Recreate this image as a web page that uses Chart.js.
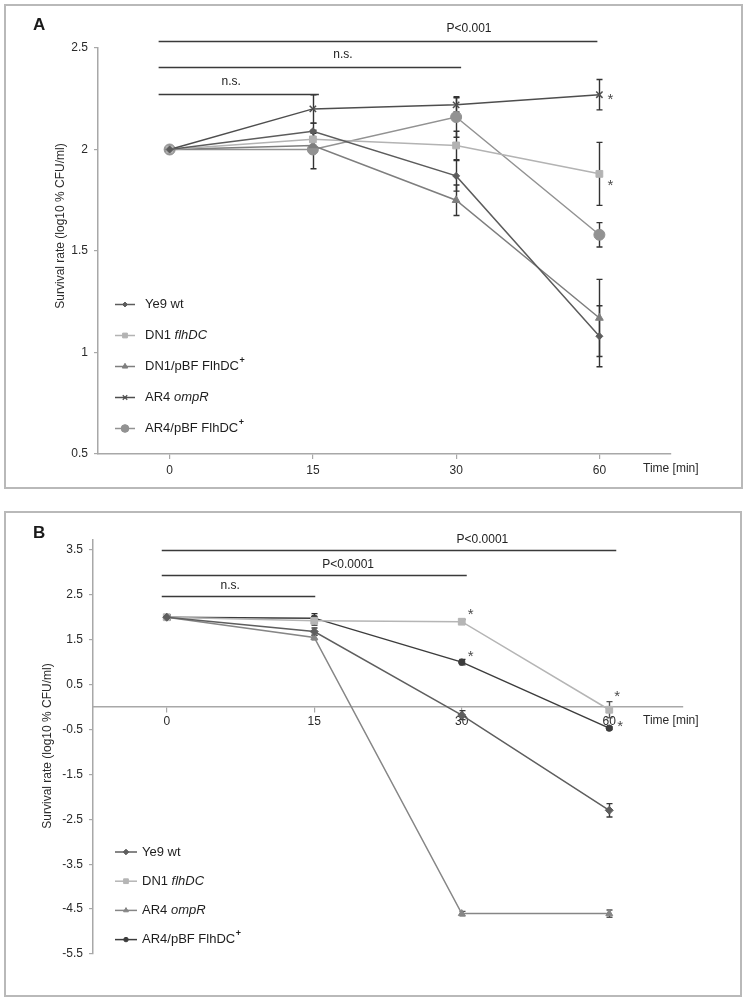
<!DOCTYPE html>
<html>
<head>
<meta charset="utf-8">
<script src="https://cdn.jsdelivr.net/npm/chart.js@4.4.1/dist/chart.umd.min.js"></script>
<style>
  body { margin: 0; background: #fff; }
  #page { position: relative; width: 747px; height: 1000px; overflow: hidden; }
  canvas { position: absolute; left: 0; }
  .frame { position: absolute; border: 2px solid #b9b9b9; box-sizing: border-box; pointer-events: none; }
</style>
</head>
<body>
<div id="page">
  <canvas id="chartA" width="747" height="500" style="top:0"></canvas>
  <canvas id="chartB" width="747" height="500" style="top:500px"></canvas>
  <div class="frame" style="left:4px;top:4px;width:739px;height:485px"></div>
  <div class="frame" style="left:4px;top:511px;width:738px;height:486px"></div>
</div>
<script>
const FONT = 'Arial, "Liberation Sans", sans-serif';

// x categories (time in minutes)
const timeLabels = ['0', '15', '30', '60'];

// ---- Panel A data ----
const namesA = ['Ye9 wt', 'DN1 <i>flhDC</i>', 'DN1/pBF FlhDC<sup>+</sup>', 'AR4 <i>ompR</i>', 'AR4/pBF FlhDC<sup>+</sup>'];
const ye9A   = [2.0, 2.09, 1.87, 1.08];
const dn1A   = [2.0, 2.05, 2.02, 1.88];
const dn1pA  = [2.0, 2.02, 1.75, 1.17];
const ompRA  = [2.0, 2.20, 2.22, 2.27];
const ar4pA  = [2.0, 2.00, 2.16, 1.58];
// standard deviations
const ye9ErrA  = [0, 0.04, 0.075, 0.15];
const dn1ErrA  = [0, 0.03, 0.07, 0.155];
const dn1pErrA = [0, 0.03, 0.075, 0.19];
const ompRErrA = [0, 0.07, 0.035, 0.075];
const ar4pErrA = [0, 0.095, 0.1, 0.06];
const yTicksA = [0.5, 1, 1.5, 2, 2.5];

// ---- Panel B data ----
const namesB = ['Ye9 wt', 'DN1 <i>flhDC</i>', 'AR4 <i>ompR</i>', 'AR4/pBF FlhDC<sup>+</sup>'];
const ye9B   = [2.0, 1.68, -0.18, -2.30];
const dn1B   = [2.0, 1.92, 1.90, -0.06];
const ompRB  = [2.0, 1.55, -4.60, -4.60];
const ar4pB  = [2.0, 1.98, 1.00, -0.47];
const ye9ErrB  = [0.05, 0.08, 0.1, 0.15];
const dn1ErrB  = [0.05, 0.1, 0.05, 0.18];
const ompRErrB = [0.05, 0.05, 0.05, 0.08];
const ar4pErrB = [0.05, 0.1, 0.06, 0.03];
const yTicksB = [-5.5, -4.5, -3.5, -2.5, -1.5, -0.5, 0.5, 1.5, 2.5, 3.5];

// significance brackets: category span, level (y value), label
const bracketsA = [
  { from: 0, to: 3, level: 2.534, label: 'P<0.001', labelAt: 2.09, endDx: -2 },
  { from: 0, to: 2, level: 2.404, label: 'n.s.', labelAt: 1.21, endDx: 5 },
  { from: 0, to: 1, level: 2.272, label: 'n.s.', labelAt: 0.43, endDx: 6 }
];
const bracketsB = [
  { from: 0, to: 3, level: 3.5, label: 'P<0.0001', labelAt: 2.14, endDx: 7 },
  { from: 0, to: 2, level: 2.93, label: 'P<0.0001', labelAt: 1.23, endDx: 5 },
  { from: 0, to: 1, level: 2.47, label: 'n.s.', labelAt: 0.43, endDx: 1 }
];
// asterisks next to significant points (series index, category index)
const starsA = [{ series: 3, at: 3, dx: 11, dy: 0 }, { series: 1, at: 3, dx: 11, dy: 7 }];
const starsB = [
  { series: 1, at: 2, dx: 9, dy: -12 }, { series: 3, at: 2, dx: 9, dy: -10 },
  { series: 1, at: 3, dx: 8, dy: -18 }, { series: 3, at: 3, dx: 11, dy: -6 }
];

const stylesA = [
  { color: '#5c5c5c', pointStyle: 'rectRot', radius: 3.5 },
  { color: '#b3b3b3', pointStyle: 'rect', radius: 4.8 },
  { color: '#7e7e7e', pointStyle: 'triangle', radius: 4.5 },
  { color: '#4e4e4e', pointStyle: 'crossRot', radius: 4.5 },
  { color: '#929292', pointStyle: 'circle', radius: 5.5 }
];
const stylesB = [
  { color: '#5e5e5e', pointStyle: 'rectRot', radius: 4 },
  { color: '#b5b5b5', pointStyle: 'rect', radius: 4.8 },
  { color: '#868686', pointStyle: 'triangle', radius: 4 },
  { color: '#3c3c3c', pointStyle: 'circle', radius: 3.2 }
];

function plain(name) {
  return name.replace(/<[^>]+>/g, '');
}

function makeDatasets(names, values, styles) {
  return names.map((n, i) => ({
    label: plain(n),
    data: values[i],
    borderColor: styles[i].color,
    backgroundColor: styles[i].color,
    pointBackgroundColor: styles[i].color,
    pointBorderColor: styles[i].color,
    pointStyle: styles[i].pointStyle,
    pointRadius: styles[i].radius,
    pointBorderWidth: styles[i].pointStyle === 'crossRot' ? 1.5 : 1,
    borderWidth: 1.5,
    tension: 0,
    fill: false
  }));
}

function drawRichText(ctx, name, x, y, size) {
  const re = /<(i|sup)>(.*?)<\/\1>|([^<]+)/g;
  let m;
  while ((m = re.exec(name))) {
    if (m[3]) {
      ctx.font = size + 'px ' + FONT;
      ctx.fillText(m[3], x, y);
      x += ctx.measureText(m[3]).width;
    } else if (m[1] === 'i') {
      ctx.font = 'italic ' + size + 'px ' + FONT;
      ctx.fillText(m[2], x, y);
      x += ctx.measureText(m[2]).width;
    } else {
      ctx.font = 'bold ' + (size - 4) + 'px ' + FONT;
      ctx.fillText(m[2], x + 0.5, y - 6);
      x += ctx.measureText(m[2]).width;
    }
  }
}

// error bars, drawn under the series
function errorBarPlugin(errors, colors) {
  return {
    id: 'errorBars',
    beforeDatasetsDraw(chart) {
      const { ctx, scales: { x, y } } = chart;
      ctx.save();
      ctx.lineWidth = 1.4;
      errors.forEach((errs, i) => {
        const vals = chart.data.datasets[i].data;
        errs.forEach((e, j) => {
          if (!e) return;
          const px = Math.round(x.getPixelForValue(j)) + 0.5;
          const top = y.getPixelForValue(vals[j] + e);
          const bot = y.getPixelForValue(vals[j] - e);
          ctx.strokeStyle = colors[i];
          ctx.beginPath();
          ctx.moveTo(px, top); ctx.lineTo(px, bot);
          ctx.moveTo(px - 3, top); ctx.lineTo(px + 3, top);
          ctx.moveTo(px - 3, bot); ctx.lineTo(px + 3, bot);
          ctx.stroke();
        });
      });
      ctx.restore();
    }
  };
}

// panel letter, axis titles, brackets, legend, asterisks
function decorPlugin(cfg) {
  return {
    id: 'decor',
    afterDraw(chart) {
      const { ctx, scales: { x, y } } = chart;
      ctx.save();
      ctx.fillStyle = '#1a1a1a';
      ctx.textBaseline = 'alphabetic';
      ctx.textAlign = 'left';
      ctx.font = 'bold 17px ' + FONT;
      ctx.fillText(cfg.panel, 33, cfg.panelY);

      // y axis title
      ctx.save();
      ctx.translate(cfg.yTitleX, cfg.yTitleY);
      ctx.rotate(-Math.PI / 2);
      ctx.textAlign = 'center';
      ctx.textBaseline = 'middle';
      ctx.font = '12px ' + FONT;
      ctx.fillStyle = '#2a2a2a';
      ctx.fillText('Survival rate (log10 % CFU/ml)', 0, 0);
      ctx.restore();

      // x axis title
      ctx.font = '12px ' + FONT;
      ctx.textBaseline = 'middle';
      ctx.fillStyle = '#2a2a2a';
      ctx.fillText('Time [min]', 643, cfg.timeY);

      // significance brackets
      ctx.strokeStyle = '#3a3a3a';
      ctx.lineWidth = 1.3;
      cfg.brackets.forEach(b => {
        const py = Math.round(y.getPixelForValue(b.level)) + 0.5;
        ctx.beginPath();
        ctx.moveTo(x.getPixelForValue(b.from) + cfg.startDx, py);
        ctx.lineTo(x.getPixelForValue(b.to) + b.endDx, py);
        ctx.stroke();
        ctx.textAlign = 'center';
        ctx.textBaseline = 'alphabetic';
        ctx.font = '12px ' + FONT;
        ctx.fillStyle = '#222';
        ctx.fillText(b.label, x.getPixelForValue(b.labelAt), py - cfg.labelGap);
      });

      // asterisks
      ctx.textAlign = 'center';
      ctx.textBaseline = 'alphabetic';
      ctx.font = '15px ' + FONT;
      ctx.fillStyle = '#4a4a4a';
      cfg.stars.forEach(s => {
        const v = chart.data.datasets[s.series].data[s.at];
        ctx.fillText('*', x.getPixelForValue(s.at) + s.dx, y.getPixelForValue(v) + s.dy + 9);
      });

      // legend
      cfg.names.forEach((n, i) => {
        const st = cfg.styles[i];
        const ly = cfg.legendY + i * cfg.legendStep;
        ctx.strokeStyle = st.color;
        ctx.lineWidth = 1.5;
        ctx.beginPath();
        ctx.moveTo(cfg.legendX, ly);
        ctx.lineTo(cfg.legendX + cfg.legendLen, ly);
        ctx.stroke();
        ctx.fillStyle = st.color;
        ctx.lineWidth = st.pointStyle === 'crossRot' ? 1.2 : 1;
        Chart.helpers.drawPoint(ctx, { pointStyle: st.pointStyle, radius: st.radius * 0.7, borderWidth: 1, rotation: 0 },
          cfg.legendX + cfg.legendLen / 2, ly);
        ctx.fillStyle = '#1e1e1e';
        ctx.textAlign = 'left';
        ctx.textBaseline = 'middle';
        drawRichText(ctx, n, cfg.legendText, ly, 13);
      });
      ctx.restore();
    }
  };
}

function xAxis(extra) {
  return Object.assign({
    type: 'category',
    offset: true,
    grid: { display: true, drawOnChartArea: false, offset: false, tickLength: 5, color: '#a8a8a8', lineWidth: 1.2 },
    border: { color: '#a8a8a8', width: 1.5 },
    ticks: { color: '#2a2a2a', font: { family: FONT, size: 12 }, maxRotation: 0 }
  }, extra);
}

function yAxis(ticksArr, min, max, width) {
  return {
    min: min,
    max: max,
    afterBuildTicks: s => { s.ticks = ticksArr.map(v => ({ value: v })); },
    afterFit: s => { s.width = width; },
    grid: { display: true, drawOnChartArea: false, tickLength: 4, color: '#a8a8a8', lineWidth: 1.2 },
    border: { color: '#a8a8a8', width: 1.5 },
    ticks: { color: '#2a2a2a', font: { family: FONT, size: 12 }, padding: 6, callback: v => String(v) }
  };
}

const baseOptions = {
  responsive: false,
  animation: false,
  events: [],
  plugins: { legend: { display: false }, tooltip: { enabled: false } }
};

// ---- Chart A ----
new Chart(document.getElementById('chartA'), {
  type: 'line',
  data: {
    labels: timeLabels,
    datasets: makeDatasets(namesA, [ye9A, dn1A, dn1pA, ompRA, ar4pA], stylesA)
  },
  options: Object.assign({}, baseOptions, {
    layout: { padding: { top: 48, right: 76, left: 0, bottom: 0 } },
    scales: {
      x: xAxis({ afterFit: s => { s.height = 46; }, ticks: { color: '#2a2a2a', font: { family: FONT, size: 12 }, padding: 4, maxRotation: 0 } }),
      y: yAxis(yTicksA, 0.5, 2.5, 98)
    }
  }),
  plugins: [
    errorBarPlugin([ye9ErrA, dn1ErrA, dn1pErrA, ompRErrA, ar4pErrA], ['#333', '#333', '#333', '#333', '#333']),
    decorPlugin({
      panel: 'A', panelY: 30, yTitleX: 61, yTitleY: 226, timeY: 469,
      brackets: bracketsA, startDx: -11, labelGap: 10, stars: starsA,
      names: namesA, styles: stylesA,
      legendX: 115, legendLen: 20, legendText: 145, legendY: 304.5, legendStep: 31
    })
  ]
});

// ---- Chart B ----
new Chart(document.getElementById('chartB'), {
  type: 'line',
  data: {
    labels: timeLabels,
    datasets: makeDatasets(namesB, [ye9B, dn1B, ompRB, ar4pB], stylesB)
  },
  options: Object.assign({}, baseOptions, {
    layout: { padding: { top: 40, right: 64, left: 0, bottom: 46 } },
    scales: {
      x: xAxis({ position: { y: 0 }, ticks: { color: '#2a2a2a', font: { family: FONT, size: 12 }, padding: 2, maxRotation: 0 } }),
      y: yAxis(yTicksB, -5.5, 3.72, 93)
    }
  }),
  plugins: [
    errorBarPlugin([ye9ErrB, dn1ErrB, ompRErrB, ar4pErrB], ['#3a3a3a', '#555', '#555', '#2e2e2e']),
    decorPlugin({
      panel: 'B', panelY: 38, yTitleX: 48, yTitleY: 246, timeY: 221,
      brackets: bracketsB, startDx: -5, labelGap: 8, stars: starsB,
      names: namesB, styles: stylesB,
      legendX: 115, legendLen: 22, legendText: 142, legendY: 352, legendStep: 29.2
    })
  ]
});
</script>
</body>
</html>
